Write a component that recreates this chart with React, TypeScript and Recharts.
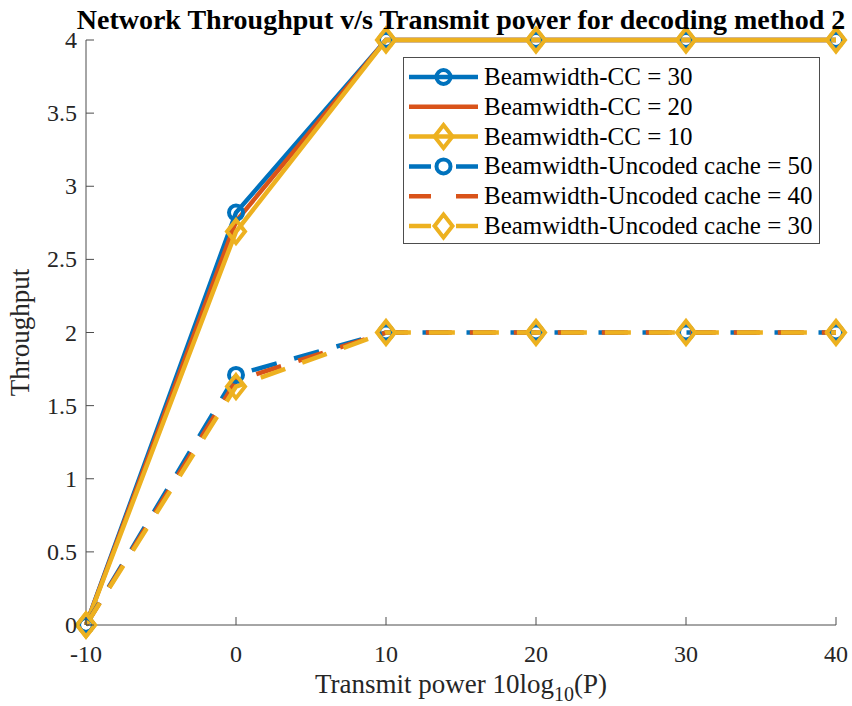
import { LineChart, Line, XAxis, YAxis, Legend, Label } from 'recharts'

// transmit power in dB (10log10 P)
const powers = [-10, 0, 10, 20, 30, 40]

// coded caching throughput, one array per beamwidth
const ccBw30 = [0, 2.82, 4, 4, 4, 4]
const ccBw20 = [0, 2.76, 4, 4, 4, 4]
const ccBw10 = [0, 2.69, 4, 4, 4, 4]

// uncoded caching throughput
const uncBw50 = [0, 1.71, 2, 2, 2, 2]
const uncBw40 = [0, 1.67, 2, 2, 2, 2]
const uncBw30 = [0, 1.63, 2, 2, 2, 2]

const xTicks = [-10, 0, 10, 20, 30, 40]
const yTicks = [0, 0.5, 1, 1.5, 2, 2.5, 3, 3.5, 4]

const TITLE = 'Network Throughput v/s Transmit power for decoding method 2'

const BLUE = '#0072BD'
const ORANGE = '#D95319'
const YELLOW = '#EDB120'
const AXIS = '#4d4d4d'
const TEXT = '#262626'
const FONT = '"Liberation Serif", "Times New Roman", serif'
const DASH = '26 18'

type Marker = 'circle' | 'diamond' | 'none'

interface SeriesDef {
  key: string
  name: string
  values: number[]
  color: string
  dashed: boolean
  marker: Marker
}

const series: SeriesDef[] = [
  { key: 'cc30', name: 'Beamwidth-CC = 30', values: ccBw30, color: BLUE, dashed: false, marker: 'circle' },
  { key: 'cc20', name: 'Beamwidth-CC = 20', values: ccBw20, color: ORANGE, dashed: false, marker: 'none' },
  { key: 'cc10', name: 'Beamwidth-CC = 10', values: ccBw10, color: YELLOW, dashed: false, marker: 'diamond' },
  { key: 'unc50', name: 'Beamwidth-Uncoded cache = 50', values: uncBw50, color: BLUE, dashed: true, marker: 'circle' },
  { key: 'unc40', name: 'Beamwidth-Uncoded cache = 40', values: uncBw40, color: ORANGE, dashed: true, marker: 'none' },
  { key: 'unc30', name: 'Beamwidth-Uncoded cache = 30', values: uncBw30, color: YELLOW, dashed: true, marker: 'diamond' },
]

const data = powers.map((p, i) => {
  const row: Record<string, number> = { p }
  for (const s of series) row[s.key] = s.values[i]
  return row
})

function MarkerShape({ kind, cx, cy, color }: { kind: Marker; cx: number; cy: number; color: string }) {
  if (kind === 'circle') {
    return <circle cx={cx} cy={cy} r={7} fill="none" stroke={color} strokeWidth={4} />
  }
  if (kind === 'diamond') {
    const w = 9
    const h = 11.5
    return (
      <path
        d={`M${cx},${cy - h}L${cx + w},${cy}L${cx},${cy + h}L${cx - w},${cy}Z`}
        fill="none"
        stroke={color}
        strokeWidth={4}
        strokeLinejoin="miter"
      />
    )
  }
  return null
}

const makeDot = (s: SeriesDef) => (props: any) => {
  const { cx, cy, index } = props
  if (s.marker === 'none' || cx == null || cy == null) return <g key={index} />
  return (
    <g key={index}>
      <MarkerShape kind={s.marker} cx={cx} cy={cy} color={s.color} />
    </g>
  )
}

// MATLAB-like ticks: short marks pointing into the plot box
const BottomTick = (props: any) => {
  const { x, y, payload } = props
  return (
    <g>
      <line x1={x} y1={y} x2={x} y2={y - 8} stroke={AXIS} strokeWidth={1} />
      <text x={x} y={y + 37} textAnchor="middle" fontSize={24} fontFamily={FONT} fill={TEXT}>
        {payload.value}
      </text>
    </g>
  )
}

const LeftTick = (props: any) => {
  const { x, y, payload } = props
  return (
    <g>
      <line x1={x} y1={y} x2={x + 8} y2={y} stroke={AXIS} strokeWidth={1} />
      <text x={x - 9} y={y + 8} textAnchor="end" fontSize={24} fontFamily={FONT} fill={TEXT}>
        {String(payload.value)}
      </text>
    </g>
  )
}

const TopTick = (props: any) => {
  const { x, y } = props
  return <line x1={x} y1={y} x2={x} y2={y + 8} stroke={AXIS} strokeWidth={1} />
}

const RightTick = (props: any) => {
  const { x, y } = props
  return <line x1={x} y1={y} x2={x - 8} y2={y} stroke={AXIS} strokeWidth={1} />
}

function LegendBox() {
  const rowH = 29.8
  return (
    <svg width={418} height={188} style={{ display: 'block' }}>
      <rect x={0.5} y={0.5} width={416} height={186} fill="#fff" stroke={AXIS} strokeWidth={1} />
      {series.map((s, i) => {
        const cy = 20 + i * rowH
        return (
          <g key={s.key}>
            <line
              x1={6}
              y1={cy}
              x2={75}
              y2={cy}
              stroke={s.color}
              strokeWidth={4.5}
              strokeDasharray={s.dashed ? '22 25' : undefined}
            />
            <MarkerShape kind={s.marker} cx={40.5} cy={cy} color={s.color} />
            <text x={81} y={cy + 8} fontSize={25} fontFamily={FONT} fill="#000">
              {s.name}
            </text>
          </g>
        )
      })}
    </svg>
  )
}

export default function App() {
  return (
    <div style={{ position: 'absolute', left: 0, top: 0, width: 852, height: 706, background: '#fff' }}>
      <LineChart width={852} height={706} data={data} margin={{ top: 40, right: 16, left: 0, bottom: 0 }}>
        <XAxis
          dataKey="p"
          type="number"
          domain={[-10, 40]}
          ticks={xTicks}
          height={81}
          tickSize={0}
          tickMargin={0}
          tickLine={false}
          axisLine={{ stroke: AXIS }}
          tick={<BottomTick />}
          interval={0}
        >
          <Label
            content={(props: any) => {
              const vb = props.viewBox
              return (
                <text
                  x={vb.x + vb.width / 2}
                  y={vb.y + 68}
                  textAnchor="middle"
                  fontSize={27}
                  fontFamily={FONT}
                  fill={TEXT}
                >
                  <tspan>Transmit power 10log</tspan>
                  <tspan dy={8} fontSize={20}>10</tspan>
                  <tspan dy={-8}>(P)</tspan>
                </text>
              )
            }}
          />
        </XAxis>
        <XAxis
          xAxisId="top"
          dataKey="p"
          type="number"
          orientation="top"
          domain={[-10, 40]}
          ticks={xTicks}
          height={0}
          tickSize={0}
          tickMargin={0}
          tickLine={false}
          axisLine={{ stroke: AXIS }}
          tick={<TopTick />}
          interval={0}
        />
        <YAxis
          type="number"
          domain={[0, 4]}
          ticks={yTicks}
          width={86}
          tickSize={0}
          tickMargin={0}
          tickLine={false}
          axisLine={{ stroke: AXIS }}
          tick={<LeftTick />}
          interval={0}
        >
          <Label
            content={(props: any) => {
              const vb = props.viewBox
              const cy = vb.y + vb.height / 2
              return (
                <text
                  x={29}
                  y={cy}
                  transform={`rotate(-90, 29, ${cy})`}
                  textAnchor="middle"
                  fontSize={27}
                  fontFamily={FONT}
                  fill={TEXT}
                >
                  Throughput
                </text>
              )
            }}
          />
        </YAxis>
        <YAxis
          yAxisId="right"
          orientation="right"
          type="number"
          domain={[0, 4]}
          ticks={yTicks}
          width={0}
          tickSize={0}
          tickMargin={0}
          tickLine={false}
          axisLine={{ stroke: AXIS }}
          tick={<RightTick />}
          interval={0}
        />
        <Legend
          layout="vertical"
          align="center"
          verticalAlign="middle"
          wrapperStyle={{ position: 'absolute', left: 403, top: 57, width: 418, height: 188 }}
          content={() => <LegendBox />}
        />
        {series.map(s => (
          <Line
            key={s.key}
            dataKey={s.key}
            name={s.name}
            type="linear"
            stroke={s.color}
            strokeWidth={4.5}
            strokeDasharray={s.dashed ? DASH : undefined}
            dot={makeDot(s)}
            activeDot={false}
            isAnimationActive={false}
          />
        ))}
      </LineChart>
      {/* title sits over the plot, centred on the axes box */}
      <svg width={852} height={40} style={{ position: 'absolute', left: 0, top: 0, pointerEvents: 'none' }}>
        <text x={461} y={29} textAnchor="middle" fontSize={28} fontWeight="bold" fontFamily={FONT} fill="#000">
          {TITLE}
        </text>
      </svg>
    </div>
  )
}
